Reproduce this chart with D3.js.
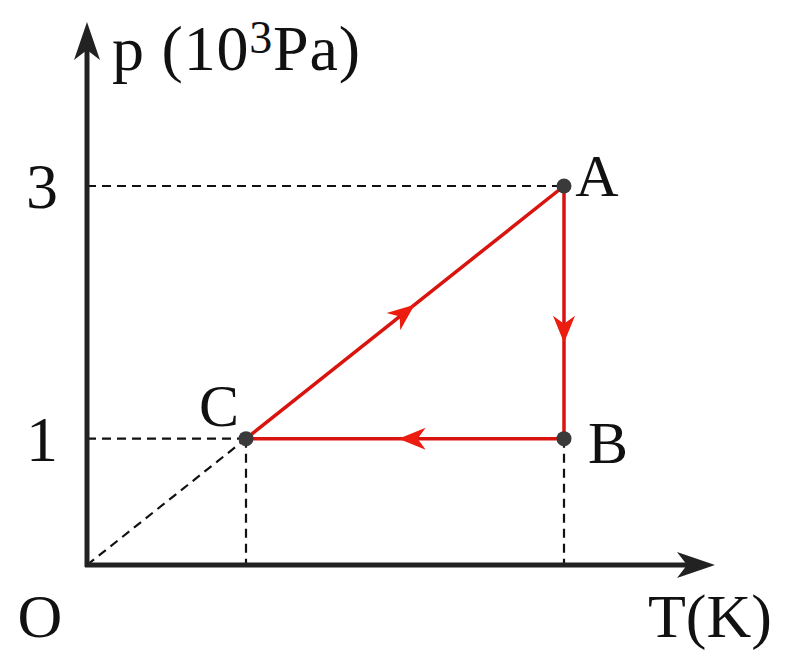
<!DOCTYPE html>
<html lang="en">
<head>
  <meta charset="utf-8">
  <script src="https://cdn.jsdelivr.net/npm/d3@7"></script>
  <style>
    body{margin:0;background:#fff;}
    text{font-family:"Liberation Serif","DejaVu Serif",serif;fill:#111;}
  </style>
</head>
<body>
  <div id="chart"></div>
  <script>
    // state points (T in units of T_C, p in 10^3 Pa)
    var names=["A","B","C"];
    var tVals=[3,3,1];
    var pVals=[3,1,1];
    var yTicks=[1,3];
    var cycle=["C","A","B","C"];

    var width=801, height=663;
    var x=d3.scaleLinear().domain([0,3]).range([87,564]);
    var y=d3.scaleLinear().domain([0,3]).range([565,186]);

    var pts={};
    names.forEach(function(n,i){pts[n]={t:tVals[i],p:pVals[i]};});

    var svg=d3.select("#chart").append("svg")
      .attr("width",width).attr("height",height);

    var axisCol="#222";

    //dashed guides
    var dash=svg.append("g")
      .attr("stroke","#111").attr("stroke-width",2.2)
      .attr("stroke-dasharray","9,6").attr("fill","none");
    dash.append("line").attr("x1",x(0)).attr("y1",y(3)).attr("x2",x(pts.A.t)).attr("y2",y(3));
    dash.append("line").attr("x1",x(0)).attr("y1",y(1)).attr("x2",x(pts.C.t)).attr("y2",y(1));
    dash.append("line").attr("x1",x(pts.C.t)).attr("y1",y(pts.C.p)).attr("x2",x(pts.C.t)).attr("y2",y(0));
    dash.append("line").attr("x1",x(pts.B.t)).attr("y1",y(pts.B.p)).attr("x2",x(pts.B.t)).attr("y2",y(0));
    dash.append("line").attr("x1",x(0)).attr("y1",y(0)).attr("x2",x(pts.C.t)).attr("y2",y(pts.C.p));

    //axes
    svg.append("line").attr("x1",x(0)).attr("y1",y(0)+2).attr("x2",x(0)).attr("y2",50)
      .attr("stroke",axisCol).attr("stroke-width",5);
    svg.append("line").attr("x1",x(0)-2).attr("y1",y(0)).attr("x2",695).attr("y2",y(0))
      .attr("stroke",axisCol).attr("stroke-width",5);

    function axisHead(tx,ty,angle){
      svg.append("path")
        .attr("d","M0,0 L-38,-13 L-28,0 L-38,13 Z")
        .attr("transform","translate("+tx+","+ty+") rotate("+angle+")")
        .attr("fill",axisCol);
    }
    axisHead(x(0),22,-90);
    axisHead(715,y(0),0);

    //red cycle
    var red="#d9140e";
    for(var i=0;i<cycle.length-1;i++){
      var a=pts[cycle[i]], b=pts[cycle[i+1]];
      var x1=x(a.t), y1=y(a.p), x2=x(b.t), y2=y(b.p);
      svg.append("line").attr("x1",x1).attr("y1",y1).attr("x2",x2).attr("y2",y2)
        .attr("stroke",red).attr("stroke-width",3.5);
      var ang=Math.atan2(y2-y1,x2-x1)*180/Math.PI;
      var f=(cycle[i]=="C")?0.53:((cycle[i]=="A")?0.62:0.52);
      var mx=x1+(x2-x1)*f, my=y1+(y2-y1)*f;
      svg.append("path")
        .attr("d","M0,0 L-27,-11 L-19,0 L-27,11 Z")
        .attr("transform","translate("+mx+","+my+") rotate("+ang+")")
        .attr("fill","#ec1c0e");
    }

    //points
    svg.selectAll("circle.pt")
      .data(names)
      .enter()
      .append("circle")
      .attr("class","pt")
      .attr("cx",function(d){return x(pts[d].t);})
      .attr("cy",function(d){return y(pts[d].p);})
      .attr("r",7.5)
      .attr("fill","#3a3a3a");

    //point labels
    var lblOff={A:[33,10],B:[44,24],C:[-27,-13]};
    svg.selectAll("text.pl")
      .data(names)
      .enter()
      .append("text")
      .attr("class","pl")
      .attr("x",function(d){return x(pts[d].t)+lblOff[d][0];})
      .attr("y",function(d){return y(pts[d].p)+lblOff[d][1];})
      .attr("text-anchor","middle")
      .style("font-size","60px")
      .text(function(d){return d;});

    //tick labels
    svg.selectAll("text.tick")
      .data(yTicks)
      .enter()
      .append("text")
      .attr("class","tick")
      .attr("x",42)
      .attr("y",function(d){return y(d)+22;})
      .attr("text-anchor","middle")
      .style("font-size","64px")
      .text(function(d){return d;});

    svg.append("text").attr("x",40).attr("y",637).attr("text-anchor","middle")
      .style("font-size","62px").text("O");

    svg.append("text").attr("x",648).attr("y",637)
      .style("font-size","62px").text("T(K)");

    var pl=svg.append("text").attr("x",112).attr("y",70).style("font-size","64px")
      .attr("textLength",248).attr("lengthAdjust","spacing");
    pl.append("tspan").text("p (10");
    pl.append("tspan").attr("dy",-17).style("font-size","46px").text("3");
    pl.append("tspan").attr("dy",17).text("Pa)");
  </script>
</body>
</html>
